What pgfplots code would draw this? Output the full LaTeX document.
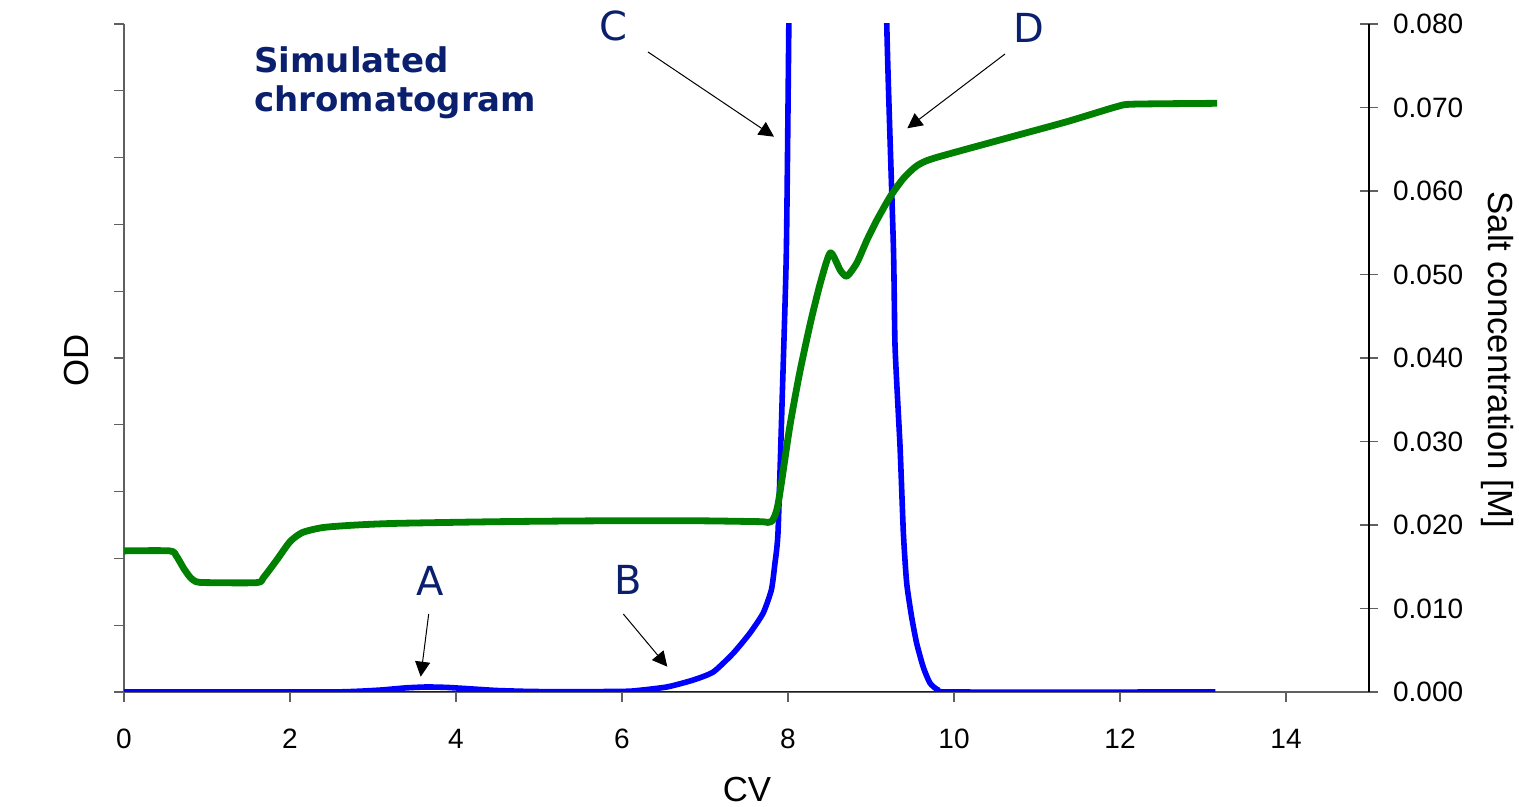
\documentclass[border=0pt]{standalone}
\usepackage{pgfplots}
\pgfplotsset{compat=1.18}
\usepackage{fontspec}
\setmainfont{Liberation Sans}
\newfontfamily\verd{DejaVu Sans}
\usetikzlibrary{arrows.meta}
\definecolor{navy}{RGB}{10,32,110}
\definecolor{axgray}{RGB}{96,96,96}
\definecolor{cgreen}{RGB}{0,128,0}
\begin{document}
\begin{tikzpicture}
\begin{axis}[
  at={(0,0)}, anchor=south west,
  scale only axis, width=622.5pt, height=334pt,
  xmin=0, xmax=15, ymin=0, ymax=1,
  axis x line*=bottom, axis y line*=left,
  axis line style={axgray, line width=0.6pt},
  tick style={axgray, line width=0.6pt},
  tick align=outside, major tick length=5pt,
  xtick={0,2,4,6,8,10,12,14},
  ytick={0,0.1,0.2,0.3,0.4,0.5,0.6,0.7,0.8,0.9,1},
  yticklabels={},
  /pgf/number format/assume math mode=true,
  xticklabel style={font=\fontsize{14}{16}\selectfont, yshift=-10pt},
]
\addplot[blue, line width=0.6pt] coordinates {(0,0) (13.15,0)};
\addplot[blue, line width=2.8pt, line join=round, smooth, tension=0.35] coordinates {
(0,0) (2.4,0) (2.8,0.001) (3.1,0.003) (3.4,0.0062) (3.65,0.0075) (3.9,0.0068)
(4.2,0.0045) (4.5,0.0022) (4.9,0.0008) (5.4,0.0004) (5.9,0.0008) (6.13,0.0015)
(6.54,0.0075) (6.86,0.018) (7.10,0.030) (7.34,0.058) (7.54,0.088) (7.70,0.118)
(7.80,0.153) (7.84,0.19) (7.88,0.24) (7.93,0.44) (7.98,0.66) (8.01,1.0)
(8.04,1.4) (8.6,3.0) (9.16,1.4) (9.19,1.0) (9.27,0.666) (9.29,0.516)
(9.35,0.367) (9.39,0.238) (9.43,0.163) (9.49,0.112) (9.55,0.073) (9.63,0.037)
(9.71,0.0135) (9.81,0.003) (9.99,0) (13.15,0)};
\end{axis}
\begin{axis}[
  at={(0,0)}, anchor=south west,
  scale only axis, width=622.5pt, height=334pt,
  xmin=0, xmax=15, ymin=0, ymax=0.08,
  axis x line=none, axis y line*=right,
  axis line style={black, line width=0.6pt},
  tick style={axgray, line width=0.6pt},
  tick align=center, major tick length=9pt,
  ytick={0,0.01,0.02,0.03,0.04,0.05,0.06,0.07,0.08},
  scaled y ticks=false,
  /pgf/number format/assume math mode=true,
  yticklabel style={font=\fontsize{14}{16}\selectfont, /pgf/number format/fixed,
    /pgf/number format/fixed zerofill, /pgf/number format/precision=3, xshift=4pt},
]
\addplot[cgreen, line width=3.4pt, line join=round, smooth, tension=0.4] coordinates {
(0,0.0169) (0.55,0.0169) (0.63,0.0163) (0.72,0.0148) (0.80,0.0137) (0.87,0.0132)
(1.0,0.0131) (1.60,0.0131) (1.68,0.0137) (1.84,0.0158) (2.0,0.0180) (2.15,0.0191) (2.40,0.0197)
(2.8,0.0200) (3.3,0.0202) (4.53,0.0204) (5.73,0.0205) (6.94,0.0205) (7.66,0.0204) (7.80,0.0204)
(7.88,0.0225) (8.02,0.0317) (8.14,0.0382) (8.27,0.0442) (8.39,0.0490) (8.51,0.0526)
(8.63,0.0505) (8.71,0.0498) (8.83,0.0514) (8.95,0.0541) (9.07,0.0565) (9.23,0.0593)
(9.39,0.0615) (9.55,0.0630) (9.75,0.0639) (10.55,0.0661) (11.36,0.0683) (11.96,0.0701)
(12.16,0.0704) (13.17,0.0705)};
\end{axis}
% axis labels
\node[rotate=90, font=\fontsize{17.4}{20}\selectfont] at (-23.5pt,166pt) {OD};
\node[font=\fontsize{17.4}{20}\selectfont] at (311.5pt,-49pt) {CV};
\node[rotate=-90, font=\fontsize{17.4}{20}\selectfont] at (686.5pt,166pt) {Salt concentration [M]};
% title
\node[anchor=base west, inner sep=0pt, text=navy, font=\verd\bfseries\fontsize{17}{20}\selectfont] at (65pt,309.5pt) {Simulated};
\node[anchor=base west, inner sep=0pt, text=navy, font=\verd\bfseries\fontsize{17}{20}\selectfont] at (65pt,290pt) {chromatogram};
% annotations
\node[text=navy, font=\verd\fontsize{20}{22}\selectfont] at (153pt,55.5pt) {A};
\node[text=navy, font=\verd\fontsize{20}{22}\selectfont] at (252pt,56pt) {B};
\node[text=navy, font=\verd\fontsize{20}{22}\selectfont] at (244.5pt,333pt) {C};
\node[text=navy, font=\verd\fontsize{20}{22}\selectfont] at (452.5pt,332pt) {D};
\draw[black, line width=0.5pt, -{Triangle[length=7.5pt,width=7.5pt]}] (152.35pt,39pt) -- (148.35pt,7.65pt);
\draw[black, line width=0.5pt, -{Triangle[length=7.5pt,width=7.5pt]}] (249.65pt,39pt) -- (271.65pt,12.65pt);
\draw[black, line width=0.5pt, -{Triangle[length=7.5pt,width=7.5pt]}] (262pt,320pt) -- (325pt,277.65pt);
\draw[black, line width=0.5pt, -{Triangle[length=7.5pt,width=7.5pt]}] (440.5pt,319pt) -- (391.65pt,281.85pt);
\pgfresetboundingbox
\useasboundingbox (-62pt,-57.5pt) rectangle (697.5pt,346pt);
\end{tikzpicture}
\end{document}
